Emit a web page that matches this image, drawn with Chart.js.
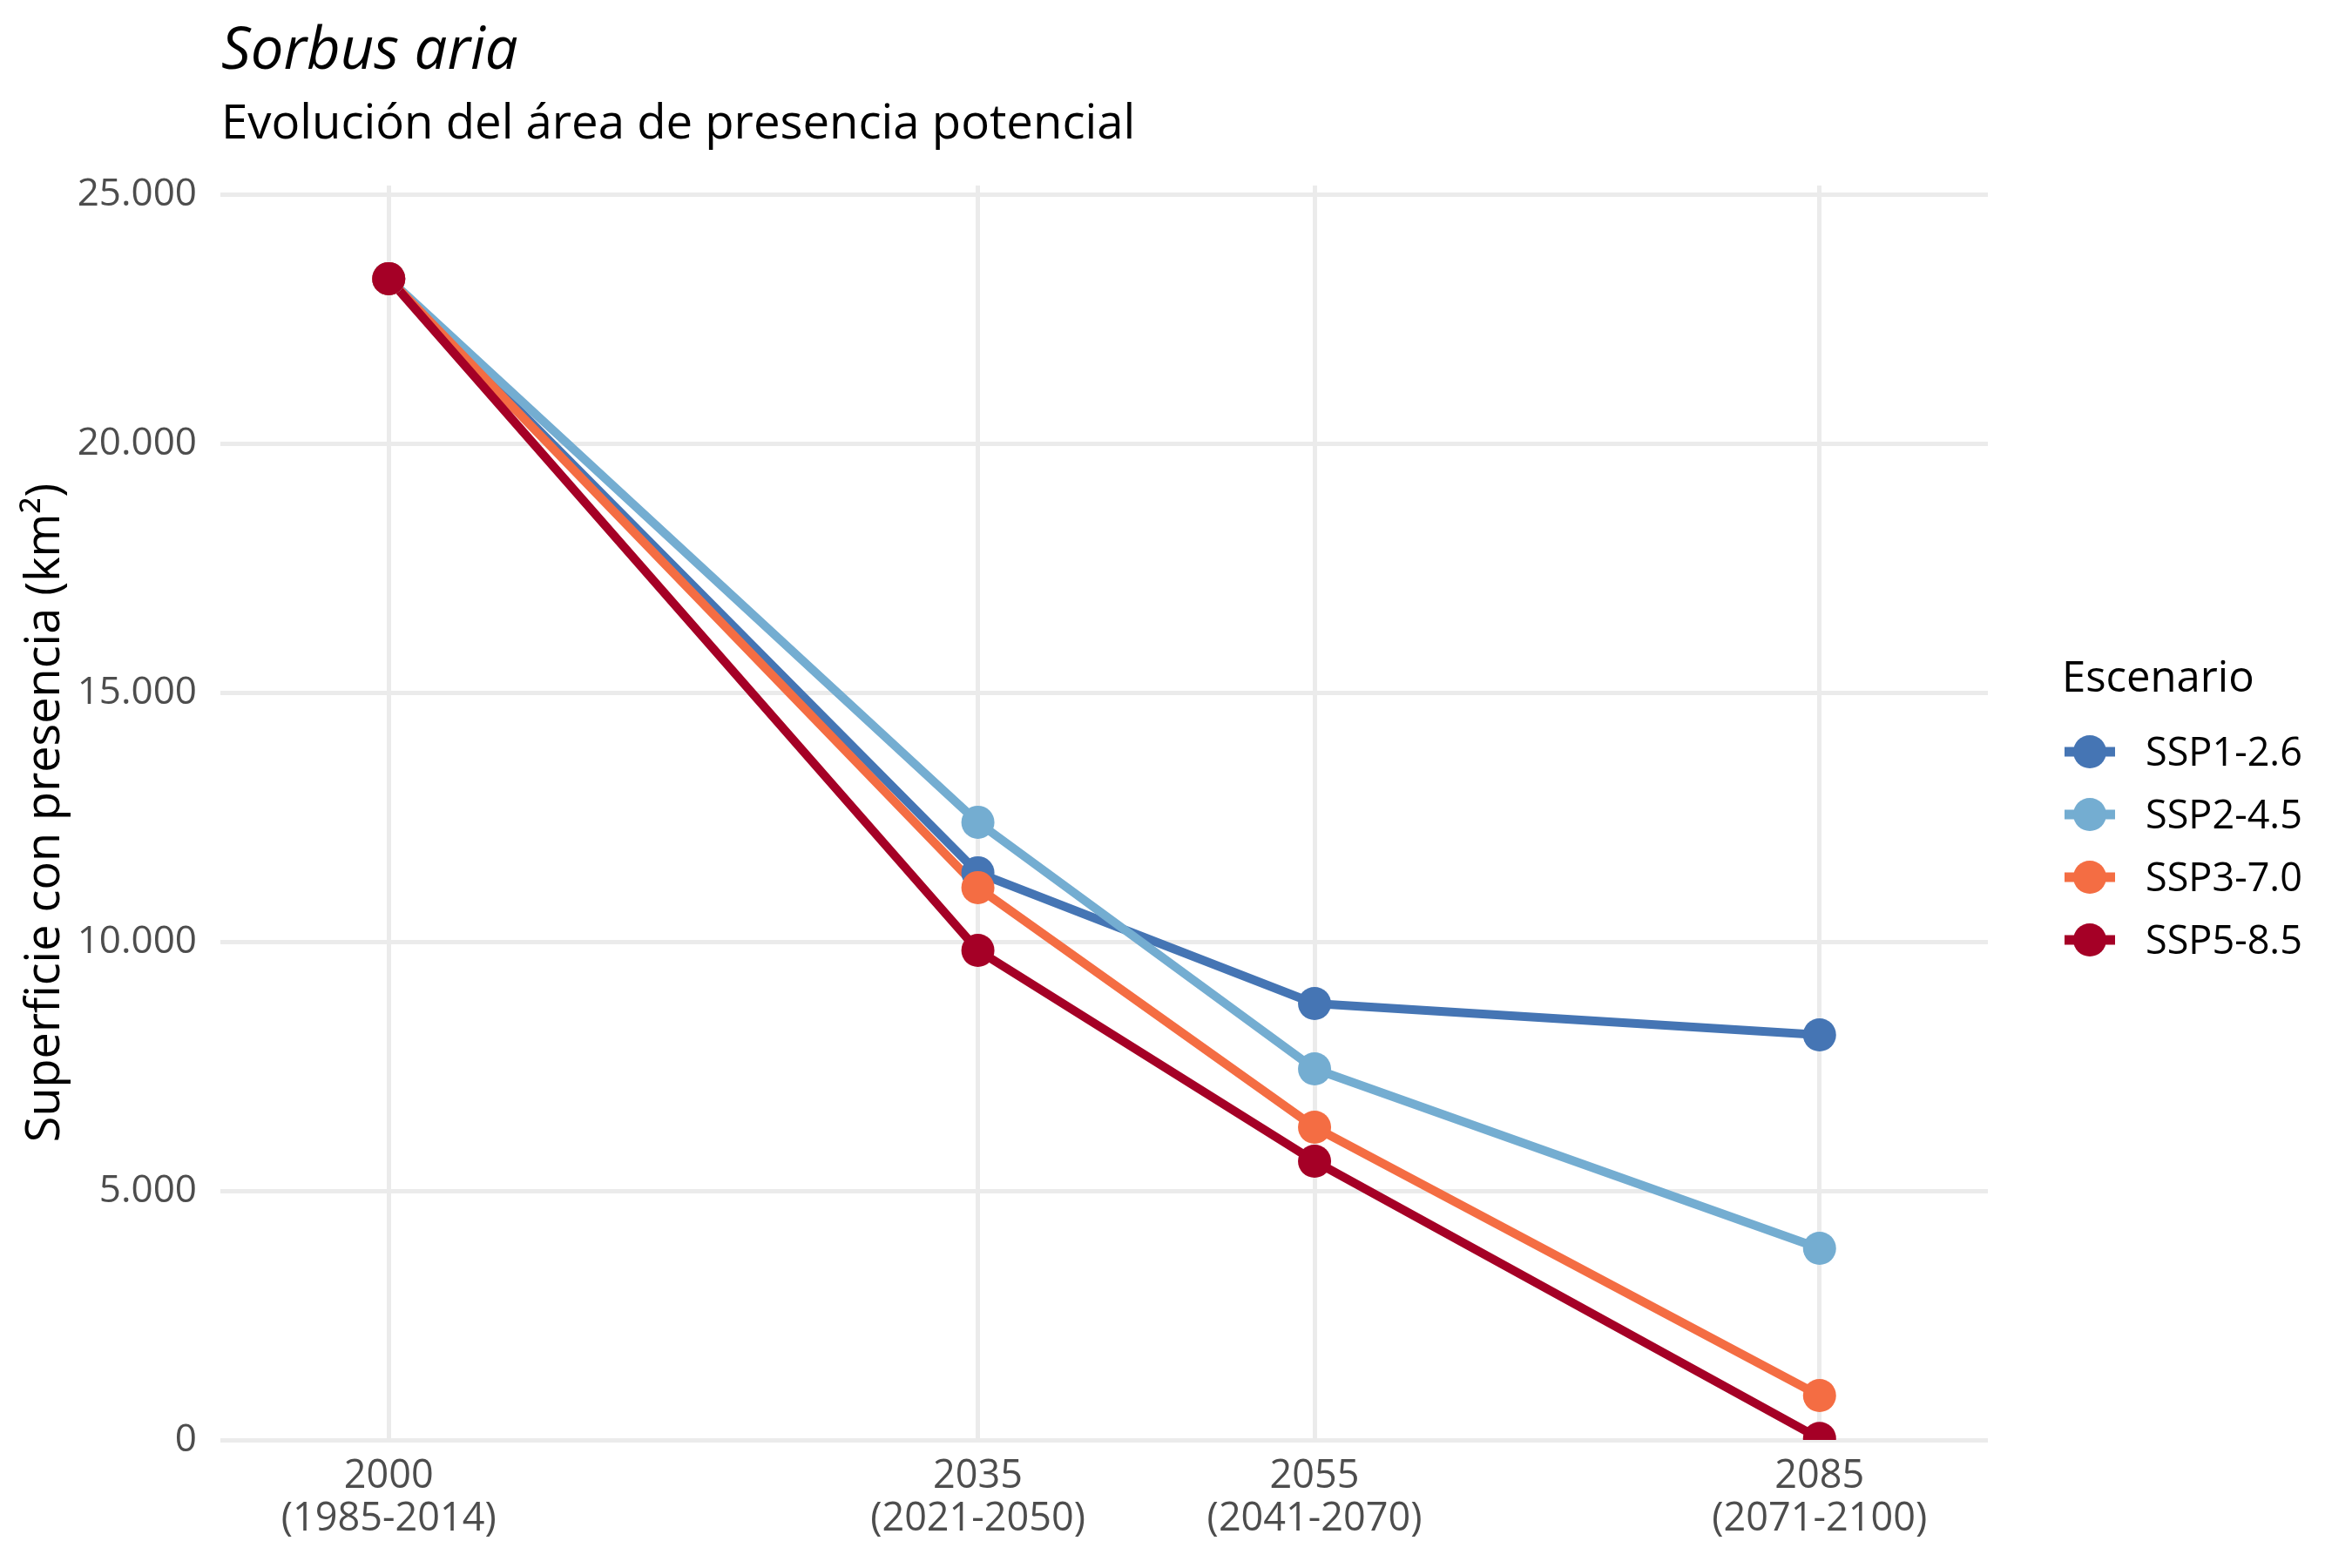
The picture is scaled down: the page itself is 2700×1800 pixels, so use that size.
<!DOCTYPE html>
<html>
<head>
<meta charset="utf-8">
<script src="https://cdn.jsdelivr.net/npm/chart.js@4.4.1/dist/chart.umd.min.js"></script>
<style>
  html, body { margin: 0; padding: 0; background: #ffffff; }
  #c { display: block; }
</style>
</head>
<body>
<canvas id="c" width="2700" height="1800"></canvas>
<script>
// ---- Data ----
const years = [2000, 2035, 2055, 2085];
const periodLabels = ["(1985-2014)", "(2021-2050)", "(2041-2070)", "(2071-2100)"];
const seriesNames = ["SSP1-2.6", "SSP2-4.5", "SSP3-7.0", "SSP5-8.5"];
const ssp126 = [23320, 11390, 8765, 8135];
const ssp245 = [23320, 12404, 7453, 3849];
const ssp370 = [23320, 11092, 6281, 892];
const ssp585 = [23320, 9832, 5598, 30];
const yTickValues = [0, 5000, 10000, 15000, 20000, 25000];
const titleText = "Sorbus aria";
const subtitleText = "Evolución del área de presencia potencial";
const yAxisTitle = "Superficie con presencia (km²)";
const legendTitle = "Escenario";

// ---- Styles ----
const colors = ["#4575B4", "#74ADD1", "#F46D43", "#A50026"];
const FONT = "'Open Sans', 'Noto Sans', sans-serif";
const seriesValues = [ssp126, ssp245, ssp370, ssp585];

function fmt(v) {
  return String(v).replace(/\B(?=(\d{3})+(?!\d))/g, ".");
}

const datasets = [];
// lines first (behind), then points (on top), like ggplot layering
seriesValues.forEach((vals, i) => {
  datasets.push({
    label: seriesNames[i] + " line",
    data: years.map((y, k) => ({ x: y, y: vals[k] })),
    borderColor: colors[i],
    backgroundColor: colors[i],
    borderWidth: 10,
    pointRadius: 0,
    pointHoverRadius: 0,
    showLine: true,
    tension: 0,
    order: 20 - i
  });
});
seriesValues.forEach((vals, i) => {
  datasets.push({
    label: seriesNames[i],
    data: years.map((y, k) => ({ x: y, y: vals[k] })),
    borderColor: colors[i],
    backgroundColor: colors[i],
    borderWidth: 0,
    pointRadius: 19,
    pointHoverRadius: 19,
    pointBorderWidth: 0,
    showLine: false,
    order: 10 - i
  });
});

const decorPlugin = {
  id: "decor",
  afterDraw(chart) {
    const ctx = chart.ctx;
    ctx.save();
    ctx.fillStyle = "#000000";
    ctx.textAlign = "left";
    ctx.textBaseline = "alphabetic";
    ctx.font = "italic 67px " + FONT;
    ctx.fillText(titleText, 254, 79);
    ctx.font = "54.5px " + FONT;
    ctx.fillText(subtitleText, 254, 159);

    // legend
    ctx.font = "49px " + FONT;
    ctx.fillText(legendTitle, 2367, 794);
    const ys = [863, 935, 1007, 1079];
    seriesNames.forEach((name, i) => {
      const cy = ys[i];
      ctx.strokeStyle = colors[i];
      ctx.lineWidth = 11;
      ctx.lineCap = "butt";
      ctx.beginPath();
      ctx.moveTo(2370, cy);
      ctx.lineTo(2428, cy);
      ctx.stroke();
      ctx.fillStyle = colors[i];
      ctx.beginPath();
      ctx.arc(2399, cy, 19, 0, Math.PI * 2);
      ctx.fill();
      ctx.fillStyle = "#000000";
      ctx.font = "45px " + FONT;
      ctx.fillText(name, 2463, cy + 16);
    });
    ctx.restore();
  }
};

function build() {
  new Chart(document.getElementById("c"), {
    type: "scatter",
    data: { datasets },
    plugins: [decorPlugin],
    options: {
      responsive: false,
      devicePixelRatio: 1,
      animation: false,
      events: [],
      layout: { padding: { left: 0, right: 418, top: 213, bottom: 0 } },
      plugins: {
        legend: { display: false },
        title: { display: false },
        tooltip: { enabled: false }
      },
      scales: {
        x: {
          type: "linear",
          min: 1990,
          max: 2095,
          afterBuildTicks: (s) => { s.ticks = years.map(v => ({ value: v })); },
          afterFit: (s) => { s.height = 147; },
          grid: { color: "#EBEBEB", lineWidth: 5, drawTicks: false },
          border: { display: false },
          ticks: {
            padding: 18,
            color: "#4D4D4D",
            font: { family: FONT, size: 45, lineHeight: 1.09 },
            maxRotation: 0,
            autoSkip: false,
            callback: (v) => {
              const idx = years.indexOf(v);
              return idx >= 0 ? [String(v), periodLabels[idx]] : "";
            }
          }
        },
        y: {
          type: "linear",
          min: 0,
          max: 25190,
          afterBuildTicks: (s) => { s.ticks = yTickValues.map(v => ({ value: v })); },
          afterFit: (s) => { s.width = 253; },
          grid: { color: "#EBEBEB", lineWidth: 5, drawTicks: false },
          border: { display: false },
          title: {
            display: true,
            text: yAxisTitle,
            color: "#000000",
            font: { family: FONT, size: 54, lineHeight: 1.2 },
            padding: { top: 20, bottom: 0 }
          },
          ticks: {
            padding: 27,
            color: "#4D4D4D",
            font: { family: FONT, size: 44 },
            callback: (v) => fmt(v)
          }
        }
      }
    }
  });
}

Promise.all([
  document.fonts.load("44px 'Open Sans'"),
  document.fonts.load("italic 66px 'Open Sans'")
]).then(build, build);
</script>
</body>
</html>
